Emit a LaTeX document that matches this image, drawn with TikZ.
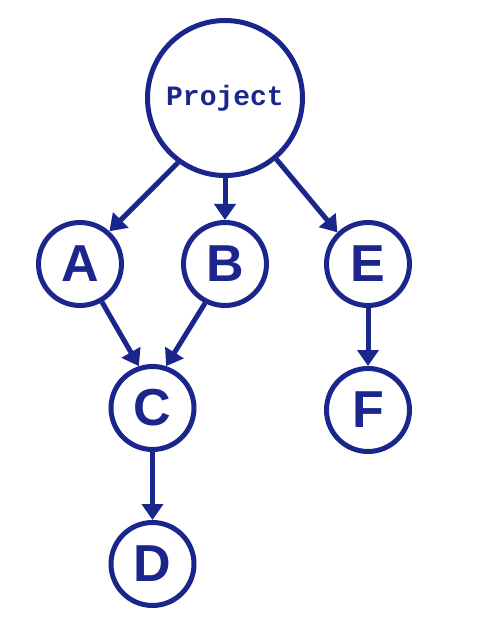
\documentclass[tikz,border=0pt]{standalone}
\usepackage{fontspec}
\usepackage{tikz}
\usetikzlibrary{arrows.meta,positioning,calc}
\newfontfamily\projfont{Liberation Mono}
\newfontfamily\letterfont{Liberation Sans}
\definecolor{navy}{RGB}{27,38,140}

\begin{document}
\begin{tikzpicture}[
  x=1pt, y=1pt,
  node distance=42pt,
  task/.style={draw=navy, circle, line width=5pt, minimum size=83pt, inner sep=0pt,
    text=navy, font=\letterfont\bfseries\fontsize{52}{52}\selectfont},
  root/.style={draw=navy, circle, line width=5pt, minimum size=155pt, inner sep=0pt,
    text=navy, font=\projfont\bfseries\fontsize{28}{28}\selectfont},
  arrow/.style={-{Triangle[length=16pt,width=21pt]}, line width=5pt, draw=navy}
]
\useasboundingbox (0,0) rectangle (476,-636);
\node[root] (proj) at (225,-98) {Project};
\node[task, below=of proj] (B) {B};
\node[task, left=57pt of B] (A) {A};
\node[task, right=55pt of B] (E) {E};
\node[task] (C) at ($(A)!0.5!(B)+(0,-144)$) {C};
\node[task, below=68pt of C] (D) {D};
\node[task, below=58pt of E] (F) {F};

\draw[arrow] (proj.234) -- (A.48);
\draw[arrow] (proj) -- (B);
\draw[arrow] (proj.310) -- (E.134);
\draw[arrow] (A.300) -- (C.108);
\draw[arrow] (B.243) -- (C.72);
\draw[arrow] (C) -- (D);
\draw[arrow] (E) -- (F);
\end{tikzpicture}
\end{document}
